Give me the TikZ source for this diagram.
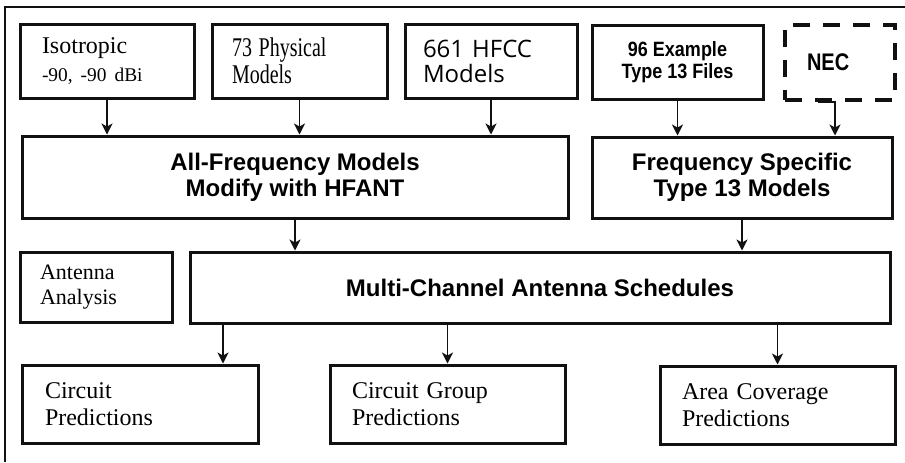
\documentclass[tikz,border=0pt]{standalone}
\usepackage{fontspec}
\setmainfont{Liberation Serif}
\setsansfont{Liberation Sans}
\newfontfamily\hfccfont{Open Sans}
\usepackage{tikz}
\usetikzlibrary{arrows.meta,positioning}
\definecolor{afInk}{HTML}{111111}
\tikzset{
  box/.style      ={draw=afInk,line width=1.5pt,inner ysep=2pt},
  leftbox/.style  ={box,align=left},
  midbox/.style   ={box,align=center},
  nexbox/.style   ={box,line width=2pt,dash pattern=on 8.5pt off 6.5pt},
  serif/.style    ={font=\fontsize{12}{13.5}\selectfont},
  headsf/.style   ={font=\sffamily\bfseries\fontsize{12}{13}\selectfont},
  flow/.style     ={-{Stealth[length=5.5pt,width=5.5pt,inset=1.5pt]},afInk,line width=0.7pt},
  frame/.style    ={afInk,line width=1pt},
}
\begin{document}
\begin{tikzpicture}[x=0.5pt,y=-0.5pt]
\useasboundingbox (0,0) rectangle (905,462);
\draw[frame] (5,462) -- (5,7) -- (905,7);

% sources
\node[leftbox,font=\fontsize{12}{14}\selectfont,text width=65pt,inner xsep=11pt,minimum height=37pt] (iso) at (107,61)
  {Isotropic\\{\fontsize{9.7}{14}\selectfont -90, -90 dBi}\\[-2pt]};
\node[leftbox,font=\fontsize{10}{12}\selectfont,text width=67.5pt,inner xsep=10pt,minimum height=37pt] (phys) at (299.5,61)
  {\scalebox{1}[1.35]{73 Physical}\\\scalebox{1}[1.35]{Models}};
\node[leftbox,font=\hfccfont\fontsize{12}{12.5}\selectfont,text width=68pt,inner xsep=9pt,minimum height=37pt] (hfcc) at (491,61)
  {661 HFCC\\Models};
\node[midbox,font=\sffamily\bfseries\fontsize{9}{9.5}\selectfont,minimum width=85.5pt,minimum height=37pt] (examp) at (677.5,62)
  {\scalebox{1}[1.15]{96 Example}\\\scalebox{1}[1.15]{Type 13 Files}};
\node[nexbox,align=left,font=\sffamily\bfseries\fontsize{10}{12}\selectfont,text width=33pt,inner xsep=11pt,minimum height=37.5pt] (nec) at (840,62.5)
  {\scalebox{1}[1.2]{NEC}};

% models
\node[midbox,headsf,minimum width=273pt,minimum height=41pt] (allf) at (295,177)
  {All-Frequency Models\\Modify with HFANT};
\node[midbox,headsf,minimum width=150pt,minimum height=40.5pt] (freq) at (742,177.5)
  {Frequency Specific\\Type 13 Models};

% schedules
\node[leftbox,font=\fontsize{11}{12.5}\selectfont,text width=56pt,inner xsep=10pt,minimum height=35pt] (ana) at (96,287)
  {Antenna\\Analysis};
\node[midbox,headsf,minimum width=350pt,minimum height=35.5pt] (multi) at (540,287.5)
  {Multi-Channel Antenna Schedules};

% predictions
\node[leftbox,serif,text width=95pt,inner xsep=11.5pt,minimum height=39pt] (circ) at (140,404)
  {Circuit\\Predictions};
\node[leftbox,serif,text width=95.5pt,inner xsep=11pt,minimum height=39pt] (grp) at (447.5,404)
  {Circuit Group\\Predictions};
\node[leftbox,serif,text width=95.5pt,inner xsep=11pt,minimum height=39pt] (area) at (777.5,405)
  {Area Coverage\\Predictions};

\draw[flow] (iso.south) -- (iso.south |- allf.north);
\draw[flow] (phys.south) -- (phys.south |- allf.north);
\draw[flow] (hfcc.south) -- (hfcc.south |- allf.north);
\draw[flow] (examp.south) -- (examp.south |- freq.north);
\draw[flow] ([xshift=-11pt]nec.south) -- ([xshift=-2.5pt]nec.south) -- ([xshift=-2.5pt]nec.south |- freq.north);
\draw[flow] (allf.south) -- (allf.south |- multi.north);
\draw[flow] (freq.south) -- (freq.south |- multi.north);
\draw[flow] ([xshift=41.5pt]circ.north |- multi.south) -- ([xshift=41.5pt]circ.north);
\draw[flow] (grp.north |- multi.south) -- (grp.north);
\draw[flow] (area.north |- multi.south) -- (area.north);
\end{tikzpicture}
\end{document}
